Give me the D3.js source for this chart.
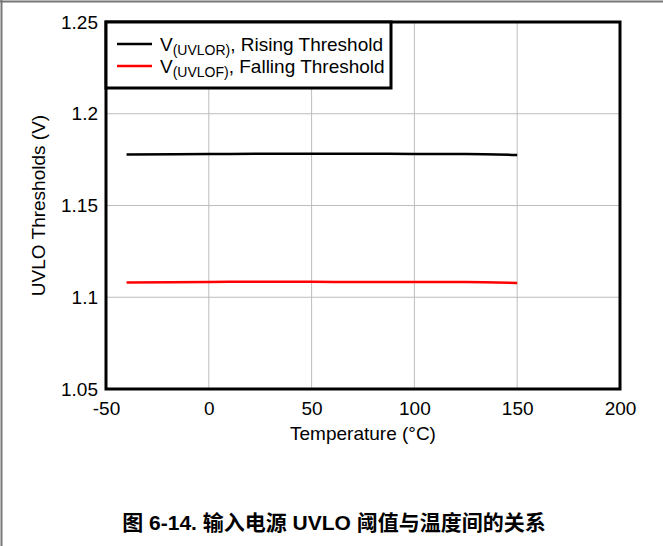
<!DOCTYPE html>
<html>
<head>
<meta charset="utf-8">
<script src="https://cdn.jsdelivr.net/npm/d3@7"></script>
<style>
  html, body { margin: 0; padding: 0; background: #fff; }
  svg { display: block; font-family: "Liberation Sans", Arial, sans-serif; }
</style>
</head>
<body>
<svg id="chart" width="663" height="546"></svg>
<script>
// Temperature sweep (°C)
const temps = [-40, 0, 25, 50, 75, 100, 125, 150];
// Input UVLO thresholds (V)
const risingThreshold  = [1.1778, 1.1780, 1.1782, 1.1782, 1.1782, 1.1781, 1.1781, 1.1775];
const fallingThreshold = [1.1080, 1.1083, 1.1085, 1.1084, 1.1083, 1.1083, 1.1083, 1.1078];
// Axis ticks
const xTicks = [-50, 0, 50, 100, 150, 200];
const xTickLabels = ["-50", "0", "50", "100", "150", "200"];
const yTicks = [1.05, 1.1, 1.15, 1.2, 1.25];
const yTickLabels = ["1.05", "1.1", "1.15", "1.2", "1.25"];

const FS = 19;
const svg = d3.select("#chart");
const plot = { left: 106, right: 620, top: 22, bottom: 389 };

const x = d3.scaleLinear().domain([-50, 200]).range([plot.left, plot.right]);
const y = d3.scaleLinear().domain([1.05, 1.25]).range([plot.bottom, plot.top]);

// Page border (top and left)
svg.append("line").attr("x1", 0).attr("x2", 663).attr("y1", 1.5).attr("y2", 1.5)
  .attr("stroke", "#777").attr("stroke-width", 2);
svg.append("line").attr("x1", 1.5).attr("x2", 1.5).attr("y1", 0).attr("y2", 546)
  .attr("stroke", "#777").attr("stroke-width", 2);

// Gridlines
svg.append("g").selectAll("line").data(xTicks.slice(1, -1)).join("line")
  .attr("x1", d => x(d)).attr("x2", d => x(d))
  .attr("y1", plot.top).attr("y2", plot.bottom)
  .attr("stroke", "#bdbdbd").attr("stroke-width", 1);
svg.append("g").selectAll("line").data(yTicks.slice(1, -1)).join("line")
  .attr("x1", plot.left).attr("x2", plot.right)
  .attr("y1", d => y(d)).attr("y2", d => y(d))
  .attr("stroke", "#bdbdbd").attr("stroke-width", 1);

// Axes (labels only, no tick marks)
const xAxis = d3.axisBottom(x).tickValues(xTicks).tickSize(0).tickPadding(13)
  .tickFormat((d, i) => xTickLabels[i]);
const gx = svg.append("g").attr("transform", `translate(0,${plot.bottom})`).call(xAxis);
gx.select(".domain").remove();
gx.selectAll("text").attr("font-size", FS).attr("fill", "#000")
  .attr("font-family", "Liberation Sans, Arial, sans-serif");

const yAxis = d3.axisLeft(y).tickValues(yTicks).tickSize(0).tickPadding(8)
  .tickFormat((d, i) => yTickLabels[i]);
const gy = svg.append("g").attr("transform", `translate(${plot.left},0)`).call(yAxis);
gy.select(".domain").remove();
gy.selectAll("text").attr("font-size", FS).attr("fill", "#000")
  .attr("font-family", "Liberation Sans, Arial, sans-serif");

// Series lines
const line = d3.line().x((d, i) => x(temps[i])).y(d => y(d)).curve(d3.curveMonotoneX);
svg.append("path").datum(risingThreshold).attr("d", line)
  .attr("fill", "none").attr("stroke", "#000").attr("stroke-width", 2.5);
svg.append("path").datum(fallingThreshold).attr("d", line)
  .attr("fill", "none").attr("stroke", "#ff0000").attr("stroke-width", 2.5);

// Plot frame
svg.append("rect").attr("x", plot.left).attr("y", plot.top)
  .attr("width", plot.right - plot.left).attr("height", plot.bottom - plot.top)
  .attr("fill", "none").attr("stroke", "#000").attr("stroke-width", 3);

// Legend
const legend = svg.append("g");
legend.append("rect").attr("x", plot.left).attr("y", plot.top)
  .attr("width", 285).attr("height", 66)
  .attr("fill", "#fff").attr("stroke", "#000").attr("stroke-width", 3);
const legendItems = [
  { sub: "(UVLOR)", rest: ", Rising Threshold", color: "#000", yy: 44 },
  { sub: "(UVLOF)", rest: ", Falling Threshold", color: "#ff0000", yy: 66 }
];
legendItems.forEach(it => {
  legend.append("line").attr("x1", 117).attr("x2", 152).attr("y1", it.yy).attr("y2", it.yy)
    .attr("stroke", it.color).attr("stroke-width", 2.5);
  const t = legend.append("text").attr("x", 160).attr("y", it.yy + 7)
    .attr("font-size", FS).attr("fill", "#000");
  t.append("tspan").text("V");
  t.append("tspan").attr("font-size", 14).attr("dy", 4).text(it.sub);
  t.append("tspan").attr("dy", -4).text(it.rest);
});

// Axis titles
svg.append("text").attr("x", x(75)).attr("y", 440).attr("text-anchor", "middle")
  .attr("font-size", FS).attr("fill", "#000").text("Temperature (°C)");
svg.append("text").attr("transform", `translate(45,${(plot.top + plot.bottom) / 2}) rotate(-90)`)
  .attr("text-anchor", "middle").attr("font-size", FS).attr("fill", "#000")
  .text("UVLO Thresholds (V)");

// Figure caption
svg.append("text").attr("x", 334).attr("y", 530).attr("text-anchor", "middle")
  .attr("font-size", 21).attr("font-weight", "bold").attr("fill", "#000")
  .attr("font-family", "Liberation Sans, 'Noto Sans CJK SC', sans-serif")
  .text("图 6-14. 输入电源 UVLO 阈值与温度间的关系");
</script>
</body>
</html>
